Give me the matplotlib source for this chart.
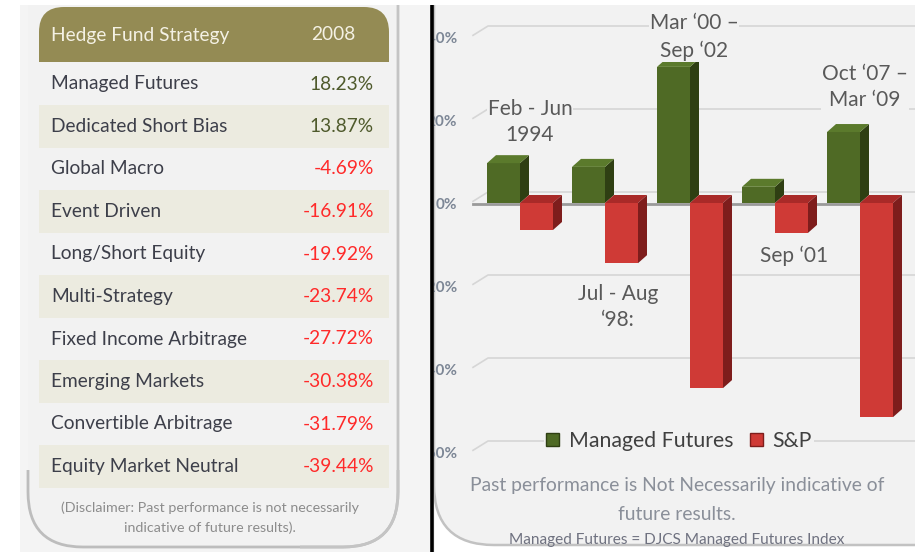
import matplotlib
matplotlib.use('Agg')
import matplotlib.pyplot as plt
from matplotlib.patches import Rectangle, FancyBboxPatch, Polygon, Patch

plt.rcParams['font.family'] = ['Lato', 'DejaVu Sans']

# table data
strategies = ['Managed Futures', 'Dedicated Short Bias', 'Global Macro', 'Event Driven',
              'Long/Short Equity', 'Multi-Strategy', 'Fixed Income Arbitrage',
              'Emerging Markets', 'Convertible Arbitrage', 'Equity Market Neutral']
returns_2008 = [18.23, 13.87, -4.69, -16.91, -19.92, -23.74, -27.72, -30.38, -31.79, -39.44]

# chart data
periods = ['Feb - Jun\n1994', 'Jul - Aug\n\u201898:', 'Mar \u201800 \u2013\nSep \u201802',
           'Sep \u201801', 'Oct \u201807 \u2013\nMar \u201809']
managed_futures = [9.6, 8.7, 32.8, 3.9, 17.1]
sp500 = [-6.5, -14.5, -44.6, -7.2, -51.6]
yticks = [40, 20, 0, -20, -40, -60]

W, H = 915, 552
fig = plt.figure(figsize=(W / 100, H / 100), dpi=100, facecolor='white')

# background axes in pixel coords
bg = fig.add_axes([0, 0, 1, 1])
bg.set_xlim(0, W)
bg.set_ylim(H, 0)
bg.axis('off')

bg.add_patch(Rectangle((20, 0), 415, H, fc='#f4f4f4', ec='none'))
# left panel (fill, then only bottom / right outline visible)
bg.add_patch(FancyBboxPatch((28, -80), 370, 627, boxstyle='round,pad=0,rounding_size=55',
                            fc='#f2f2f2', ec='none'))
edge = FancyBboxPatch((28, -80), 370, 627, boxstyle='round,pad=0,rounding_size=55',
                      fc='none', ec='#bdbdbd', lw=2)
bg.add_patch(edge)
edge.set_clip_path(Rectangle((0, 470), 430, 90, transform=bg.transData))
edge2 = FancyBboxPatch((28, -80), 370, 627, boxstyle='round,pad=0,rounding_size=55',
                       fc='none', ec='#c4c4c4', lw=2)
bg.add_patch(edge2)
edge2.set_clip_path(Rectangle((300, 0), 130, 560, transform=bg.transData))

# right panel
bg.add_patch(FancyBboxPatch((434, -80), 540, 625, boxstyle='round,pad=0,rounding_size=60',
                            fc='#f2f2f2', ec='#c2c2c2', lw=1.8))
bg.add_patch(Rectangle((0, 0), W, 5, fc='white', ec='none'))
bg.plot([432, 432], [5, H], color='black', lw=2.6, solid_capstyle='butt')

# header
olive = '#948b54'
bg.add_patch(FancyBboxPatch((39, 7), 350, 55, boxstyle='round,pad=0,rounding_size=25',
                            fc=olive, ec='none'))
bg.add_patch(Rectangle((39, 35), 350, 27, fc=olive, ec='none'))
bg.text(51, 35, 'Hedge Fund Strategy', fontsize=13.8, color='#f4f1e4', va='center', ha='left')
bg.text(333, 35, '2008', fontsize=13.8, color='#f4f1e4', va='center', ha='center')

row_h = 42.5
for i, (name, val) in enumerate(zip(strategies, returns_2008)):
    cy = 84 + i * row_h
    if i % 2 == 1:
        bg.add_patch(Rectangle((39, cy - row_h / 2), 350, row_h, fc='#ecebe0', ec='none'))
    bg.text(51, cy, name, fontsize=13.8, color='#3d3f4a', va='center', ha='left')
    col = '#4f5a2c' if val > 0 else '#ff2a2a'
    bg.text(374, cy, '%.2f%%' % val, fontsize=13.8, color=col, va='center', ha='right')

bg.text(210, 508, '(Disclaimer: Past performance is not necessarily', fontsize=10.3,
        color='#8c8c8c', ha='center', va='center')
bg.text(210, 528, 'indicative of future results).', fontsize=10.3,
        color='#8c8c8c', ha='center', va='center')

# chart axes: pixel x = 520 + 85*i, pixel y = 203 - v*83/20
px_per_unit = 85.0
px_per_pct = 83 / 20.0
x_left = (434 - 520) / px_per_unit
x_right = (W - 520) / px_per_unit
y_top = (203 - 5) / px_per_pct
y_bot = -(548 - 203) / px_per_pct
ax = fig.add_axes([434 / W, (H - 548) / H, (W - 434) / W, (548 - 5) / H])
ax.set_xlim(x_left, x_right)
ax.set_ylim(y_bot, y_top)
ax.axis('off')

dx = 9 / px_per_unit
dy = 8 / px_per_pct
back = 11 / px_per_pct
gx0 = (473 - 520) / px_per_unit
gx1 = (488 - 520) / px_per_unit
for v in yticks:
    ax.plot([gx0, gx1, x_right], [v + 0.4, v + back, v + back], color='#d6d6d6', lw=1.2, zorder=1)
    ax.text((457 - 520) / px_per_unit, v - 0.5, '%d%%' % v, fontsize=11, fontweight='bold',
            color='#7d8796', ha='right', va='center', clip_on=True)
ax.plot([gx0, (897 - 520) / px_per_unit], [-0.2, -0.2], color='#9a9a9a', lw=2, zorder=2)

w = 33 / px_per_unit
xs = list(range(len(periods)))
g_front, g_side, g_top = '#4f6a25', '#2f3f13', '#5b7a2c'
r_front, r_side, r_top = '#cf3a36', '#7e1d1c', '#a92a28'
ax.bar([x - w / 2 for x in xs], managed_futures, width=w, color=g_front, zorder=3)
for x, v in zip(xs, managed_futures):
    x0, x1 = x - w, x
    ax.add_patch(Polygon([(x1, 0), (x1, v), (x1 + dx, v + dy), (x1 + dx, dy)], fc=g_side, ec='none', zorder=3))
    ax.add_patch(Polygon([(x0, v), (x1, v), (x1 + dx, v + dy), (x0 + dx, v + dy)], fc=g_top, ec='none', zorder=3))
for x, v in zip(xs, sp500):
    x0, x1 = x, x + w
    ax.add_patch(Polygon([(x0, 0), (x1, 0), (x1 + dx, dy), (x0 + dx, dy)], fc=r_top, ec='none', zorder=4))
    ax.add_patch(Polygon([(x1, 0), (x1 + dx, dy), (x1 + dx, v + dy), (x1, v)], fc=r_side, ec='none', zorder=4))
ax.bar([x + w / 2 for x in xs], sp500, width=w, color=r_front, zorder=4)

# period labels (pixel positions, drawn above the gridlines)
label_pos = [(530, 122), (618, 307), (694, 37), (794, 256), (865, 87)]
for txt, (lx, ly) in zip(periods, label_pos):
    ax.text(lx, ly, txt, transform=bg.transData, fontsize=15, color='#595959',
            ha='center', va='center', linespacing=1.42, clip_on=False,
            bbox=dict(boxstyle='square,pad=0.05', fc='#f2f2f2', ec='none'), zorder=5)

leg = ax.legend(handles=[Patch(fc=g_front, ec='#2f3f13'), Patch(fc=r_front, ec='#7e1d1c')],
                labels=['Managed Futures', 'S&P'], ncol=2, loc='center',
                bbox_to_anchor=(679, 441), bbox_transform=bg.transData,
                fontsize=15.3, frameon=True, facecolor='#f2f2f2', edgecolor='none', framealpha=1,
                handlelength=0.6, handleheight=0.6, handletextpad=0.45, columnspacing=0.8,
                borderpad=0.1)
for t in leg.get_texts():
    t.set_color('#404040')

bg.text(677, 486, 'Past performance is Not Necessarily indicative of', fontsize=13.9,
        color='#8a8f99', ha='center', va='center')
bg.text(677, 515, 'future results.', fontsize=13.9, color='#8a8f99', ha='center', va='center')
bg.text(677, 540, 'Managed Futures = DJCS Managed Futures Index', fontsize=11.1,
        color='#6f7280', ha='center', va='center')

fig.savefig('out.png', dpi=100, facecolor='white')
